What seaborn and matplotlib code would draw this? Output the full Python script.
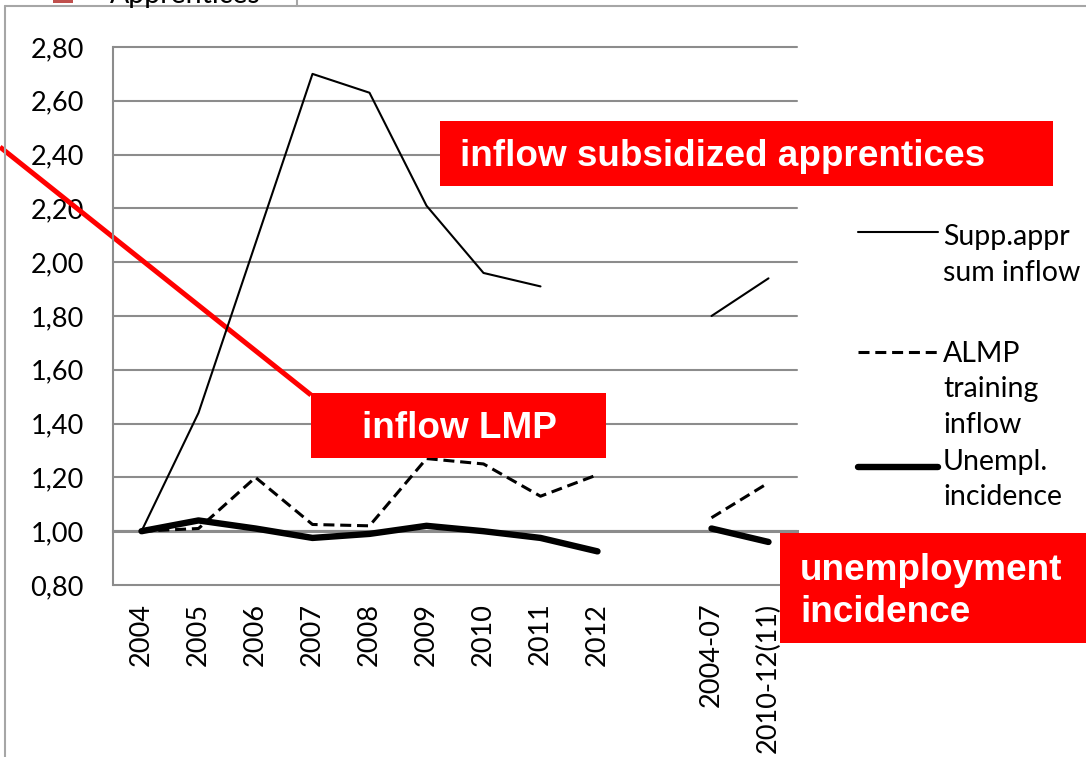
import numpy as np
import pandas as pd
import matplotlib
matplotlib.use("Agg")
import matplotlib.pyplot as plt
import seaborn as sns
from matplotlib.lines import Line2D
from matplotlib.patches import Rectangle
from matplotlib.ticker import FixedLocator, FuncFormatter

# ---- data -------------------------------------------------------------
categories = ["2004", "2005", "2006", "2007", "2008", "2009", "2010", "2011",
              "2012", "", "2004-07", "2010-12(11)"]
supp_appr_inflow = [1.00, 1.44, 2.07, 2.70, 2.63, 2.21, 1.96, 1.91,
                    np.nan, np.nan, 1.80, 1.94]
almp_training_inflow = [1.00, 1.01, 1.20, 1.025, 1.02, 1.27, 1.25, 1.13,
                        1.21, np.nan, 1.05, 1.18]
unempl_incidence = [1.00, 1.04, 1.01, 0.975, 0.99, 1.02, 1.00, 0.975,
                    0.925, np.nan, 1.01, 0.96]
y_ticks = [0.80, 1.00, 1.20, 1.40, 1.60, 1.80, 2.00, 2.20, 2.40, 2.60, 2.80]
series_names = ["Supp.appr\nsum inflow", "ALMP\ntraining\ninflow",
                "Unempl.\nincidence"]
callouts = ["inflow subsidized apprentices", "inflow LMP",
            "unemployment\nincidence"]
top_legend_entry = "Apprentices"

# ---- long-form table, split into unbroken segments --------------------
frames = []
for name, vals in zip(series_names, [supp_appr_inflow, almp_training_inflow,
                                     unempl_incidence]):
    v = np.asarray(vals, dtype=float)
    seg = np.cumsum(np.isnan(v))
    frames.append(pd.DataFrame({"series": name, "pos": np.arange(len(v)),
                                "value": v, "segment": seg}))
df = pd.concat(frames).dropna(subset=["value"])

W, H = 1086, 757
fig = plt.figure(figsize=(W / 100, H / 100), dpi=100)
fig.patch.set_facecolor("white")

def fx(px):
    return px / W

def fy(py):
    return 1 - py / H

sns.set_style("white")
plt.rcParams["font.family"] = ["Lato", "DejaVu Sans"]

TICK_FS = 19.5
KEY_FS = 20.5
CALLOUT_FS = 26.6

ax = fig.add_axes([fx(113), fy(585), fx(797 - 113), (585 - 47) / H])
ax.patch.set_visible(False)

grey = "#8c8c8c"
styles = {
    series_names[0]: dict(linewidth=1.5, linestyle="-"),
    series_names[1]: dict(linewidth=2.2, linestyle=(0, (3.6, 1.9))),
    series_names[2]: dict(linewidth=4.6, linestyle="-"),
}
for name in series_names:
    sub = df[df["series"] == name]
    sns.lineplot(data=sub, x="pos", y="value", units="segment",
                 estimator=None, color="black", ax=ax, legend=False,
                 solid_capstyle="round", solid_joinstyle="round",
                 dash_capstyle="butt", zorder=3, **styles[name])

ax.set_xlim(-0.5, len(categories) - 0.5)
ax.set_ylim(0.8, 2.8)
ax.set_xlabel("")
ax.set_ylabel("")

# y axis: gridlines with outward ticks
ax.set_yticks(y_ticks)
ax.yaxis.set_major_formatter(FuncFormatter(lambda v, _: f"{v:.2f}".replace(".", ",")))
ax.yaxis.grid(True, color=grey, linewidth=1.5)
ax.xaxis.grid(False)
ax.set_axisbelow(True)
for gl in ax.get_ygridlines():
    gl.set_clip_on(False)
ax.tick_params(axis="y", direction="out", length=7, width=1.5, color=grey,
               labelsize=TICK_FS, pad=14, labelcolor="black")

# category axis crossing at 1.00
for s in ["top", "right"]:
    ax.spines[s].set_visible(False)
ax.spines["left"].set_color(grey)
ax.spines["left"].set_linewidth(1.5)
ax.spines["bottom"].set_position(("data", 1.0))
ax.spines["bottom"].set_color(grey)
ax.spines["bottom"].set_linewidth(2.2)
ax.xaxis.set_major_locator(FixedLocator(range(len(categories))))
ax.set_xticklabels(categories, rotation=90, fontsize=TICK_FS)
ax.xaxis.set_minor_locator(FixedLocator(np.arange(len(categories) + 1) - 0.5))
ax.tick_params(axis="x", which="major", length=0, pad=51.5, labelcolor="black")
ax.tick_params(axis="x", which="minor", direction="out", length=6, width=2.2,
               color=grey)

# red pointer line
ax.add_line(Line2D([0, fx(311)], [fy(147), fy(395)], transform=fig.transFigure,
                   color="red", linewidth=3.6, clip_on=False, zorder=1.5,
                   solid_capstyle="butt"))

# red callout boxes
boxes = [(440, 121, 1053, 186), (311, 393, 606, 458), (780, 533, 1090, 643)]
text_pos = [(460, 166), (362, 438), (800, 580)]
for (x0, y0, x1, y1), (tx, ty), label in zip(boxes, text_pos, callouts):
    fig.add_artist(Rectangle((fx(x0), fy(y1)), fx(x1 - x0), (y1 - y0) / H,
                             transform=fig.transFigure, facecolor="#ff0000",
                             edgecolor="none", zorder=10))
    for i, line in enumerate(label.split("\n")):
        fig.text(fx(tx), fy(ty + 42 * i), line, color="white",
                 fontsize=CALLOUT_FS, fontweight="bold",
                 family="Liberation Sans", va="baseline", ha="left", zorder=11)

# series key on the right
key_y = [232, 352, 467]
key_baselines = [[245, 281], [362, 397, 433], [470, 505]]
for name, ly, bls in zip(series_names, key_y, key_baselines):
    st = styles[name]
    fig.add_artist(Line2D([fx(858), fx(938)], [fy(ly), fy(ly)],
                          transform=fig.transFigure, color="black",
                          linewidth=st["linewidth"], linestyle=st["linestyle"],
                          solid_capstyle="round", dash_capstyle="butt"))
    for line, bl in zip(name.split("\n"), bls):
        fig.text(fx(943), fy(bl), line, fontsize=KEY_FS, va="baseline",
                 ha="left", color="black")

# outer frame and the clipped entry of the neighbouring key
frame_c = "#a6a6a6"
fig.add_artist(Line2D([fx(5), 1], [fy(6), fy(6)], transform=fig.transFigure,
                      color=frame_c, linewidth=1.5))
fig.add_artist(Line2D([fx(5), fx(5)], [fy(6), 0], transform=fig.transFigure,
                      color=frame_c, linewidth=1.5))
fig.add_artist(Line2D([fx(297), fx(297)], [fy(6), 1], transform=fig.transFigure,
                      color=frame_c, linewidth=1.5))
fig.add_artist(Rectangle((fx(53), fy(3)), fx(20), 20 / H,
                         transform=fig.transFigure, facecolor="#c0504d",
                         edgecolor="none"))
fig.text(fx(110), fy(3), top_legend_entry, fontsize=KEY_FS, va="baseline",
         ha="left", color="black")

fig.savefig("out.png", dpi=100)
